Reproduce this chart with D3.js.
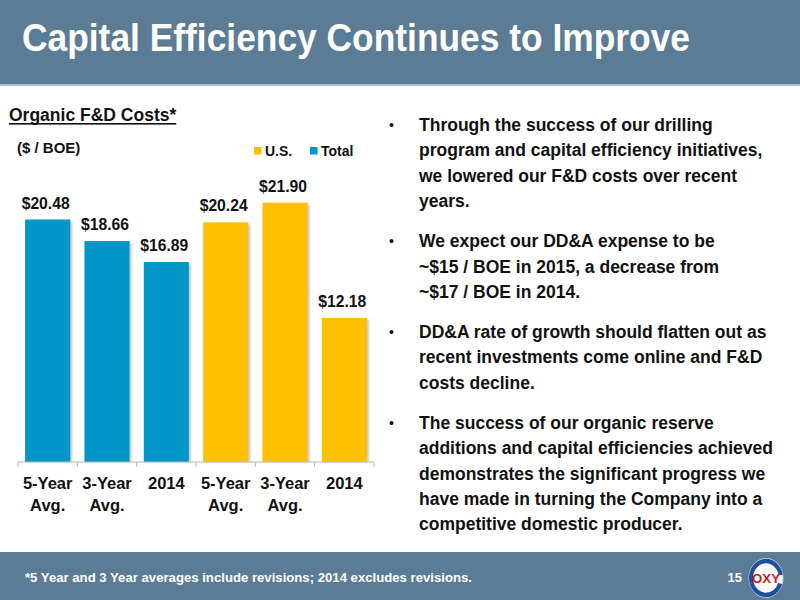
<!DOCTYPE html>
<html>
<head>
<meta charset="utf-8">
<script src="https://cdn.jsdelivr.net/npm/d3@7"></script>
<style>
  body { margin: 0; background: #fff; }
  svg { display: block; font-family: "Liberation Sans", Arial, Helvetica, sans-serif; }
</style>
</head>
<body>
<script>
// chart data
var categories = ["5-Year Avg.", "3-Year Avg.", "2014", "5-Year Avg.", "3-Year Avg.", "2014"];
var totalValues = [20.48, 18.66, 16.89];
var usValues = [20.24, 21.90, 12.18];
var seriesNames = ["U.S.", "Total"];
var seriesColors = ["#ffc000", "#0096c8"];

var bullets = [
  ["Through the success of our drilling", "program and capital efficiency initiatives,", "we lowered our F&D costs over recent", "years."],
  ["We expect our DD&A expense to be", "~$15 / BOE in 2015, a decrease from", "~$17 / BOE in 2014."],
  ["DD&A rate of growth should flatten out as", "recent investments come online and F&D", "costs decline."],
  ["The success of our organic reserve", "additions and capital efficiencies achieved", "demonstrates the significant progress we", "have made in turning the Company into a", "competitive domestic producer."]
];

var W = 800, H = 600;
var bandColor = "#5b7c94";

var svg = d3.select("body").append("svg")
  .attr("width", W)
  .attr("height", H);

// header
svg.append("rect")
  .attr("x", 0).attr("y", 0)
  .attr("width", W).attr("height", 84)
  .style("fill", bandColor);
svg.append("rect")
  .attr("x", 0).attr("y", 84)
  .attr("width", W).attr("height", 2)
  .style("fill", "#a9bccb");
svg.append("text")
  .text("Capital Efficiency Continues to Improve")
  .attr("x", 22)
  .attr("y", 51)
  .attr("textLength", 668)
  .attr("lengthAdjust", "spacingAndGlyphs")
  .style("font-size", "39px")
  .style("font-weight", "bold")
  .style("fill", "#fff");

// footer
svg.append("rect")
  .attr("x", 0).attr("y", 552)
  .attr("width", W).attr("height", H - 552)
  .style("fill", bandColor);
svg.append("text")
  .text("*5 Year and 3 Year averages include revisions; 2014 excludes revisions.")
  .attr("x", 25)
  .attr("y", 581.5)
  .attr("textLength", 447)
  .attr("lengthAdjust", "spacingAndGlyphs")
  .style("font-size", "12px")
  .style("font-weight", "bold")
  .style("fill", "#fff");
svg.append("text")
  .text("15")
  .attr("x", 742)
  .attr("y", 582)
  .attr("text-anchor", "end")
  .style("font-size", "13px")
  .style("font-weight", "bold")
  .style("fill", "#fff");

// logo
var logo = svg.append("g").attr("transform", "translate(766,578)");
logo.append("ellipse")
  .attr("rx", 17).attr("ry", 19.5)
  .style("fill", "#fff")
  .style("stroke", "#c9d3dc")
  .style("stroke-width", 1);
var arc = d3.arc();
logo.append("path")
  .attr("d", arc({innerRadius: 13, outerRadius: 17, startAngle: -1.9, endAngle: 1.4}))
  .attr("transform", "scale(1,1.13)")
  .style("fill", "#1f4e9c");
logo.append("path")
  .attr("d", arc({innerRadius: 13, outerRadius: 17, startAngle: 1.9, endAngle: 4.4}))
  .attr("transform", "scale(1,1.13)")
  .style("fill", "#1f4e9c");
logo.append("text")
  .text("OXY")
  .attr("x", 0).attr("y", 4.5)
  .attr("text-anchor", "middle")
  .attr("textLength", 28)
  .attr("lengthAdjust", "spacingAndGlyphs")
  .style("font-size", "12.5px")
  .style("font-weight", "bold")
  .style("fill", "#d7191c");

// chart titles
var chartTitle = svg.append("text")
  .text("Organic F&D Costs*")
  .attr("x", 9)
  .attr("y", 121)
  .style("font-size", "17.5px")
  .style("font-weight", "bold")
  .style("fill", "#111");
var tLen = chartTitle.node().getComputedTextLength();
svg.append("rect")
  .attr("x", 9).attr("y", 123)
  .attr("width", tLen).attr("height", 1.6)
  .style("fill", "#111");

svg.append("text")
  .text("($ / BOE)")
  .attr("x", 17)
  .attr("y", 153)
  .style("font-size", "15px")
  .style("font-weight", "bold")
  .style("fill", "#111");

// scales
var values = totalValues.concat(usValues);
var colorOf = categories.map(function(d, i) { return i < totalValues.length ? seriesColors[1] : seriesColors[0]; });

var x = d3.scaleBand()
  .domain(d3.range(categories.length))
  .range([18, 374])
  .paddingInner(0.24)
  .paddingOuter(0.12);

var y = d3.scaleLinear()
  .domain([0, 25])
  .range([462, 166]);

var defs = svg.append("defs");
var blur = defs.append("filter").attr("id", "shadow")
  .attr("x", "-20%").attr("y", "-20%").attr("width", "140%").attr("height", "140%");
blur.append("feGaussianBlur").attr("stdDeviation", 1.2);

var bars = svg.append("g").selectAll("g")
  .data(values)
  .enter()
  .append("g");

bars.append("rect")
  .attr("x", function(d, i) { return x(i) + 2; })
  .attr("y", function(d) { return y(d) + 2; })
  .attr("width", x.bandwidth())
  .attr("height", function(d) { return y(0) - y(d) - 2; })
  .style("fill", "#000")
  .style("opacity", 0.22)
  .attr("filter", "url(#shadow)");

bars.append("rect")
  .attr("x", function(d, i) { return x(i); })
  .attr("y", function(d) { return y(d); })
  .attr("width", x.bandwidth())
  .attr("height", function(d) { return y(0) - y(d); })
  .style("fill", function(d, i) { return colorOf[i]; });

bars.append("text")
  .text(function(d) { return "$" + d3.format(".2f")(d); })
  .attr("x", function(d, i) { return x(i) + x.bandwidth() / 2 - 2; })
  .attr("y", function(d) { return y(d) - 11; })
  .attr("text-anchor", "middle")
  .style("font-size", "15.7px")
  .style("font-weight", "bold")
  .style("fill", "#111");

// axis: baseline with ticks on band boundaries
var axisG = svg.append("g").attr("transform", "translate(0," + y(0) + ")");
axisG.append("line")
  .attr("x1", x.range()[0]).attr("x2", x.range()[1])
  .attr("y1", 0).attr("y2", 0)
  .style("stroke", "#b8b8b8")
  .style("stroke-width", 1);
axisG.selectAll(".tick")
  .data(d3.range(categories.length + 1))
  .enter()
  .append("line")
  .attr("class", "tick")
  .attr("x1", function(i) { return x.range()[0] + i * x.step(); })
  .attr("x2", function(i) { return x.range()[0] + i * x.step(); })
  .attr("y1", 0).attr("y2", 5)
  .style("stroke", "#b8b8b8");

var catLabels = axisG.selectAll(".cat")
  .data(categories)
  .enter()
  .append("text")
  .attr("class", "cat")
  .attr("text-anchor", "middle")
  .style("font-size", "16.5px")
  .style("font-weight", "bold")
  .style("fill", "#111");
catLabels.each(function(d, i) {
  var words = d.split(" ");
  var t = d3.select(this);
  words.forEach(function(w, k) {
    t.append("tspan")
      .attr("x", x(i) + x.bandwidth() / 2)
      .attr("y", 27 + k * 22)
      .text(w);
  });
});

// legend
var legend = svg.append("g")
  .selectAll("g")
  .data(seriesNames)
  .enter()
  .append("g")
  .attr("transform", function(d, i) { return "translate(" + (254 + i * 56) + ",147)"; });
legend.append("rect")
  .attr("width", 7.5).attr("height", 7.5)
  .style("fill", function(d, i) { return seriesColors[i]; });
legend.append("text")
  .text(function(d) { return d; })
  .attr("x", 11)
  .attr("y", 9)
  .style("font-size", "14px")
  .style("font-weight", "bold")
  .style("fill", "#111");

// bullet text
var lineH = 25.3, gap = 15, yPos = 131;
bullets.forEach(function(lines) {
  svg.append("text")
    .text("\u2022")
    .attr("x", 389)
    .attr("y", yPos - 1)
    .style("font-size", "14px")
    .style("fill", "#111");
  lines.forEach(function(line, k) {
    svg.append("text")
      .text(line)
      .attr("x", 419)
      .attr("y", yPos + k * lineH)
      .style("font-size", "17.5px")
      .style("font-weight", "bold")
      .style("fill", "#111");
  });
  yPos += lines.length * lineH + gap;
});
</script>
</body>
</html>
